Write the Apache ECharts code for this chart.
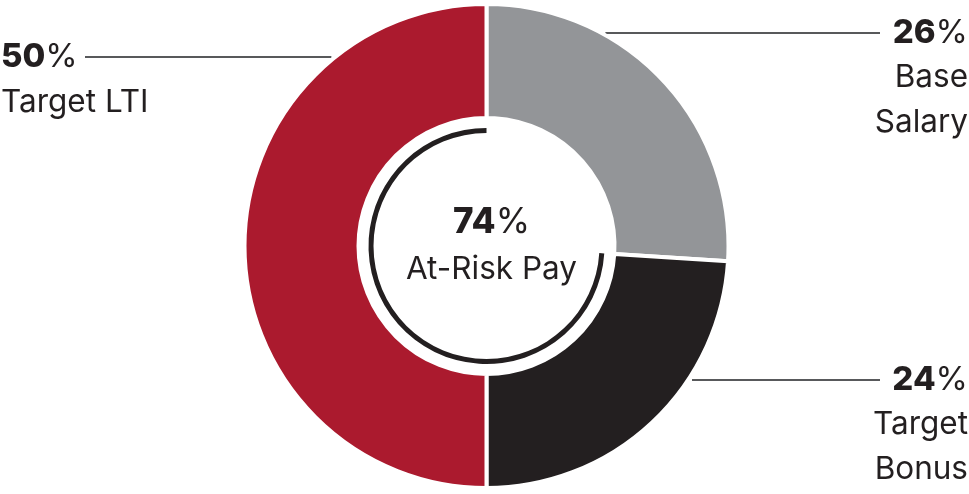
<!DOCTYPE html>
<html>
<head>
<meta charset="utf-8">
<script src="https://cdn.jsdelivr.net/npm/echarts@6/dist/echarts.min.js"></script>
<style>html,body{margin:0;padding:0;background:#fff;}#c{width:969px;height:494px;}</style>
</head>
<body>
<div id="c"></div>
<script>
// ---- data ----
const categories = ['Base Salary', 'Target Bonus', 'Target LTI'];
const labelLines = [['Base', 'Salary'], ['Target', 'Bonus'], ['Target LTI']];
const values = [26, 24, 50];
const centerLabel = 'At-Risk Pay';

// ---- styles / layout ----
const colors = ['#939598', '#231F20', '#AB1A2E'];
const CX = 486.5, CY = 246, R_OUT = 242, R_IN = 128;
const FONT = 'Inter, "Noto Sans", sans-serif';
// label anchor configuration per slice (layout only)
const labelCfg = [
  { side: 'right', x: 968, leadY: 33, lineEnd: 880 },
  { side: 'right', x: 968, leadY: 380, lineEnd: 880 },
  { side: 'left',  x: 1,   leadY: 57, lineEnd: 85 }
];
const LINE_H = 45;

const atRisk = values[1] + values[2];

const chart = echarts.init(document.getElementById('c'), null, { renderer: 'canvas' });

function labelText(i) {
  let s = '{b|' + values[i] + '}{p|%}';
  labelLines[i].forEach(t => { s += '\n{' + (labelCfg[i].side === 'left' ? 'nl' : 'n') + '|' + t + '}'; });
  return s;
}

const rich = {
  b: { fontFamily: FONT, fontWeight: 800, fontSize: 33, color: '#231F20', lineHeight: LINE_H },
  p: { fontFamily: FONT, fontWeight: 400, fontSize: 33, color: '#231F20', lineHeight: LINE_H },
  n: { fontFamily: FONT, fontWeight: 400, fontSize: 31.5, color: '#231F20', lineHeight: LINE_H },
  nl: { fontFamily: FONT, fontWeight: 400, fontSize: 31.5, color: '#231F20', lineHeight: 46 }
};

chart.setOption({
  animation: false,
  title: {
    text: '{b|' + atRisk + '}{p|%}\n{n|' + centerLabel + '}',
    left: CX, top: 193, textAlign: 'center',
    textStyle: { rich: {
      b: { fontFamily: FONT, fontWeight: 800, fontSize: 35, color: '#231F20', lineHeight: 48, align: 'center' },
      p: { fontFamily: FONT, fontWeight: 400, fontSize: 35, color: '#231F20', lineHeight: 48, align: 'center' },
      n: { fontFamily: FONT, fontWeight: 400, fontSize: 31.5, color: '#231F20', lineHeight: 48, align: 'center' }
    } }
  },
  series: [
    {
      type: 'pie',
      center: [CX, CY],
      radius: [R_IN, R_OUT],
      startAngle: 90,
      clockwise: true,
      silent: true,
      itemStyle: { borderColor: '#fff', borderWidth: 4 },
      data: categories.map((c, i) => ({ name: c, value: values[i], itemStyle: { color: colors[i] } })),
      label: {
        show: true, position: 'outer', alignTo: 'none',
        formatter: p => labelText(p.dataIndex),
        rich: rich
      },
      labelLine: { show: true, lineStyle: { color: '#58595B', width: 2 } },
      labelLayout: function (params) {
        const cfg = labelCfg[params.dataIndex];
        const dy = cfg.leadY - CY;
        const dx = Math.sqrt(R_OUT * R_OUT - dy * dy);
        const startX = cfg.side === 'right' ? CX + dx + 4 : CX - dx - 4;
        const midX = (startX + cfg.lineEnd) / 2;
        return {
          x: cfg.x,
          y: cfg.leadY - LINE_H / 2,
          align: cfg.side === 'right' ? 'right' : 'left',
          verticalAlign: 'top',
          labelLinePoints: [[startX, cfg.leadY], [midX, cfg.leadY], [cfg.lineEnd, cfg.leadY]]
        };
      }
    },
    {
      type: 'pie',
      center: [CX, CY],
      radius: [113, 118],
      startAngle: 90,
      clockwise: true,
      silent: true,
      label: { show: false },
      labelLine: { show: false },
      data: [
        { name: 'gap', value: values[0], itemStyle: { color: 'rgba(0,0,0,0)' } },
        { name: 'At-Risk', value: atRisk, itemStyle: { color: '#231F20' } }
      ]
    }
  ]
});
</script>
</body>
</html>
